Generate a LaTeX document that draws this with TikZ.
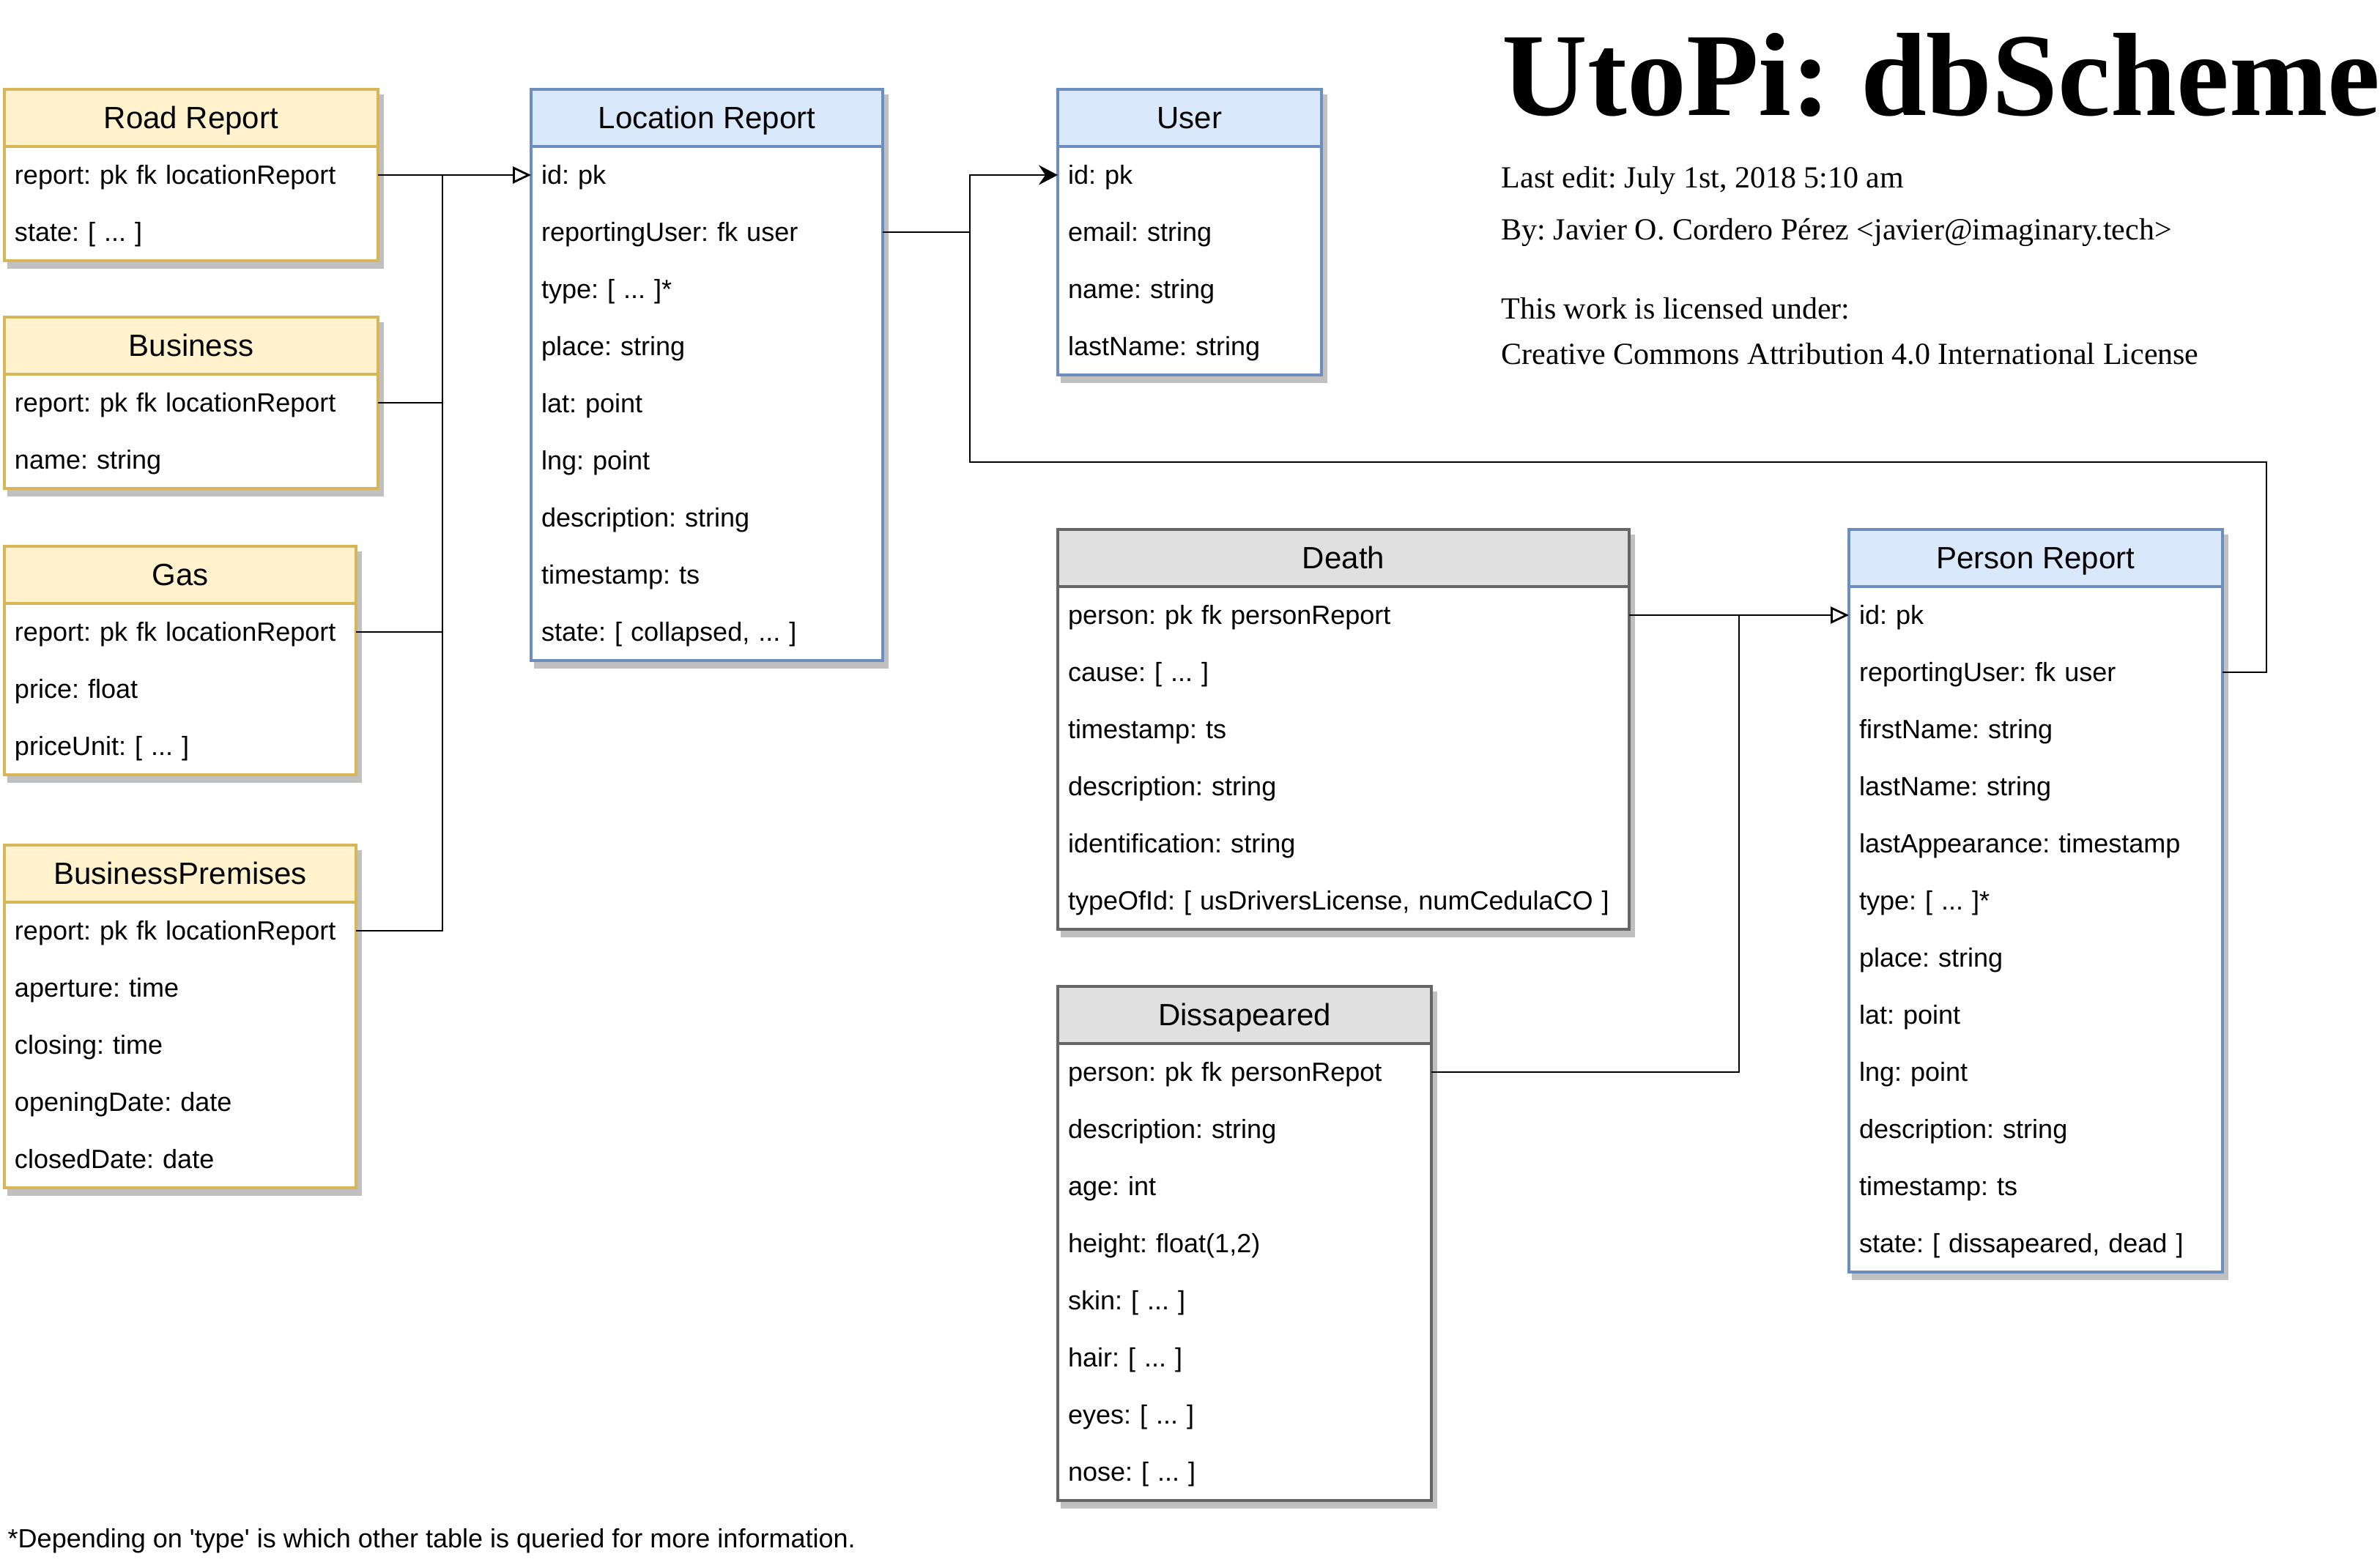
\documentclass[tikz,border=0pt]{standalone}
\usepackage{fontspec}
\setmainfont{Liberation Serif}
\setsansfont{Liberation Sans}
\frenchspacing
\usetikzlibrary{positioning,arrows.meta,backgrounds}
\definecolor{ylwfill}{HTML}{FFF2CC}
\definecolor{ylwline}{HTML}{D6B656}
\definecolor{blufill}{HTML}{DAE8FC}
\definecolor{bluline}{HTML}{6C8EBF}
\definecolor{gryfill}{HTML}{E0E0E0}
\definecolor{gryline}{HTML}{666666}
\definecolor{shadow}{HTML}{C0C0C0}
\begin{document}
\begin{tikzpicture}[
	hdr/.style={minimum height=0.78cm, inner sep=0, outer sep=0, anchor=north west,
		text height=0.38cm, text depth=0.09cm, font=\sffamily\fontsize{11.95pt}{14pt}\selectfont},
	fld/.style={fill=white, minimum height=0.78cm, inner xsep=0.14cm, inner ysep=0, outer sep=0,
		text width=#1, align=left, text height=0.326cm, text depth=0.076cm,
		font=\sffamily\fontsize{10.25pt}{12pt}\selectfont},
	ylw/.style={draw=ylwline, line width=1.4pt},
	blu/.style={draw=bluline, line width=1.4pt},
	gry/.style={draw=gryline, line width=1.4pt},
	shd/.style={fill=shadow, draw=shadow, line width=1.4pt},
	conn/.style={draw=black, line width=0.8pt},
	inh/.style={-{Triangle[open, length=0.25cm, width=0.23cm]}},
	fk/.style={-{Stealth[length=0.26cm, width=0.27cm, inset=0.09cm]}},
	note/.style={anchor=base west, inner sep=0, font=\fontsize{11.95pt}{14pt}\selectfont}
]
\useasboundingbox (0,0) rectangle (32.49,-21.33);

% title block
\node[anchor=base west, inner sep=0, font=\bfseries\fontsize{46pt}{50pt}\selectfont] (title) at (20.50,-1.57) {UtoPi: dbScheme};
\node[note] (edit) at (20.49,-2.56) {Last edit: July 1st, 2018 5:10 am};
\node[note] (by) at (20.49,-3.27) {By: Javier O. Cordero Pérez <javier@imaginary.tech>};
\node[note] (lic) at (20.49,-4.35) {This work is licensed under:};
\node[note] (cc) at (20.49,-4.97) {Creative Commons Attribution 4.0 International License};

% left column
\node[hdr, fill=ylwfill, minimum width=5.1cm] (road) at (0.06,-1.22) {Road Report};
\node[fld=4.82cm, below=0pt of road] (road-1) {report: pk fk locationReport};
\node[fld=4.82cm, below=0pt of road-1] (road-2) {state: [ ... ]};

\node[hdr, fill=ylwfill, minimum width=5.1cm] (biz) at (0.06,-4.33) {Business};
\node[fld=4.82cm, below=0pt of biz] (biz-1) {report: pk fk locationReport};
\node[fld=4.82cm, below=0pt of biz-1] (biz-2) {name: string};

\node[hdr, fill=ylwfill, minimum width=4.8cm] (gas) at (0.06,-7.46) {Gas};
\node[fld=4.52cm, below=0pt of gas] (gas-1) {report: pk fk locationReport};
\node[fld=4.52cm, below=0pt of gas-1] (gas-2) {price: float};
\node[fld=4.52cm, below=0pt of gas-2] (gas-3) {priceUnit: [ ... ]};

\node[hdr, fill=ylwfill, minimum width=4.8cm] (prem) at (0.06,-11.54) {BusinessPremises};
\node[fld=4.52cm, below=0pt of prem] (prem-1) {report: pk fk locationReport};
\node[fld=4.52cm, below=0pt of prem-1] (prem-2) {aperture: time};
\node[fld=4.52cm, below=0pt of prem-2] (prem-3) {closing: time};
\node[fld=4.52cm, below=0pt of prem-3] (prem-4) {openingDate: date};
\node[fld=4.52cm, below=0pt of prem-4] (prem-5) {closedDate: date};

% location report
\node[hdr, fill=blufill, minimum width=4.8cm] (loc) at (7.25,-1.22) {Location Report};
\node[fld=4.52cm, below=0pt of loc] (loc-1) {id: pk};
\node[fld=4.52cm, below=0pt of loc-1] (loc-2) {reportingUser: fk user};
\node[fld=4.52cm, below=0pt of loc-2] (loc-3) {type: [ ... ]*};
\node[fld=4.52cm, below=0pt of loc-3] (loc-4) {place: string};
\node[fld=4.52cm, below=0pt of loc-4] (loc-5) {lat: point};
\node[fld=4.52cm, below=0pt of loc-5] (loc-6) {lng: point};
\node[fld=4.52cm, below=0pt of loc-6] (loc-7) {description: string};
\node[fld=4.52cm, below=0pt of loc-7] (loc-8) {timestamp: ts};
\node[fld=4.52cm, below=0pt of loc-8] (loc-9) {state: [ collapsed, ... ]};

% user
\node[hdr, fill=blufill, minimum width=3.6cm] (usr) at (14.44,-1.22) {User};
\node[fld=3.32cm, below=0pt of usr] (usr-1) {id: pk};
\node[fld=3.32cm, below=0pt of usr-1] (usr-2) {email: string};
\node[fld=3.32cm, below=0pt of usr-2] (usr-3) {name: string};
\node[fld=3.32cm, below=0pt of usr-3] (usr-4) {lastName: string};

% death
\node[hdr, fill=gryfill, minimum width=7.8cm] (death) at (14.44,-7.23) {Death};
\node[fld=7.52cm, below=0pt of death] (death-1) {person: pk fk personReport};
\node[fld=7.52cm, below=0pt of death-1] (death-2) {cause: [ ... ]};
\node[fld=7.52cm, below=0pt of death-2] (death-3) {timestamp: ts};
\node[fld=7.52cm, below=0pt of death-3] (death-4) {description: string};
\node[fld=7.52cm, below=0pt of death-4] (death-5) {identification: string};
\node[fld=7.52cm, below=0pt of death-5] (death-6) {typeOfId: [ usDriversLicense, numCedulaCO ]};

% dissapeared
\node[hdr, fill=gryfill, minimum width=5.1cm] (gone) at (14.44,-13.47) {Dissapeared};
\node[fld=4.82cm, below=0pt of gone] (gone-1) {person: pk fk personRepot};
\node[fld=4.82cm, below=0pt of gone-1] (gone-2) {description: string};
\node[fld=4.82cm, below=0pt of gone-2] (gone-3) {age: int};
\node[fld=4.82cm, below=0pt of gone-3] (gone-4) {height: float(1,2)};
\node[fld=4.82cm, below=0pt of gone-4] (gone-5) {skin: [ ... ]};
\node[fld=4.82cm, below=0pt of gone-5] (gone-6) {hair: [ ... ]};
\node[fld=4.82cm, below=0pt of gone-6] (gone-7) {eyes: [ ... ]};
\node[fld=4.82cm, below=0pt of gone-7] (gone-8) {nose: [ ... ]};

% person report
\node[hdr, fill=blufill, minimum width=5.1cm] (pers) at (25.24,-7.23) {Person Report};
\node[fld=4.82cm, below=0pt of pers] (pers-1) {id: pk};
\node[fld=4.82cm, below=0pt of pers-1] (pers-2) {reportingUser: fk user};
\node[fld=4.82cm, below=0pt of pers-2] (pers-3) {firstName: string};
\node[fld=4.82cm, below=0pt of pers-3] (pers-4) {lastName: string};
\node[fld=4.82cm, below=0pt of pers-4] (pers-5) {lastAppearance: timestamp};
\node[fld=4.82cm, below=0pt of pers-5] (pers-6) {type: [ ... ]*};
\node[fld=4.82cm, below=0pt of pers-6] (pers-7) {place: string};
\node[fld=4.82cm, below=0pt of pers-7] (pers-8) {lat: point};
\node[fld=4.82cm, below=0pt of pers-8] (pers-9) {lng: point};
\node[fld=4.82cm, below=0pt of pers-9] (pers-10) {description: string};
\node[fld=4.82cm, below=0pt of pers-10] (pers-11) {timestamp: ts};
\node[fld=4.82cm, below=0pt of pers-11] (pers-12) {state: [ dissapeared, dead ]};

% footnote
\node[anchor=base west, inner sep=0, font=\sffamily\fontsize{10.25pt}{12pt}\selectfont] (foot) at (0.10,-21.13)
	{*Depending on \textquotesingle type\textquotesingle{} is which other table is queried for more information.};

% frames
\draw[ylw] (road.north west) rectangle (road-2.south east) (road.south west) -- (road.south east);
\draw[ylw] (biz.north west) rectangle (biz-2.south east) (biz.south west) -- (biz.south east);
\draw[ylw] (gas.north west) rectangle (gas-3.south east) (gas.south west) -- (gas.south east);
\draw[ylw] (prem.north west) rectangle (prem-5.south east) (prem.south west) -- (prem.south east);
\draw[blu] (loc.north west) rectangle (loc-9.south east) (loc.south west) -- (loc.south east);
\draw[blu] (usr.north west) rectangle (usr-4.south east) (usr.south west) -- (usr.south east);
\draw[gry] (death.north west) rectangle (death-6.south east) (death.south west) -- (death.south east);
\draw[gry] (gone.north west) rectangle (gone-8.south east) (gone.south west) -- (gone.south east);
\draw[blu] (pers.north west) rectangle (pers-12.south east) (pers.south west) -- (pers.south east);

% shadows
\begin{scope}[on background layer]
\filldraw[shd] ([shift={(0.06,-0.09)}]road.north west) rectangle ([shift={(0.06,-0.09)}]road-2.south east);
\filldraw[shd] ([shift={(0.06,-0.09)}]biz.north west) rectangle ([shift={(0.06,-0.09)}]biz-2.south east);
\filldraw[shd] ([shift={(0.06,-0.09)}]gas.north west) rectangle ([shift={(0.06,-0.09)}]gas-3.south east);
\filldraw[shd] ([shift={(0.06,-0.09)}]prem.north west) rectangle ([shift={(0.06,-0.09)}]prem-5.south east);
\filldraw[shd] ([shift={(0.06,-0.09)}]loc.north west) rectangle ([shift={(0.06,-0.09)}]loc-9.south east);
\filldraw[shd] ([shift={(0.06,-0.09)}]usr.north west) rectangle ([shift={(0.06,-0.09)}]usr-4.south east);
\filldraw[shd] ([shift={(0.06,-0.09)}]death.north west) rectangle ([shift={(0.06,-0.09)}]death-6.south east);
\filldraw[shd] ([shift={(0.06,-0.09)}]gone.north west) rectangle ([shift={(0.06,-0.09)}]gone-8.south east);
\filldraw[shd] ([shift={(0.06,-0.09)}]pers.north west) rectangle ([shift={(0.06,-0.09)}]pers-12.south east);
\end{scope}

% connectors
\coordinate (j1) at (13.24,-6.31);
\coordinate (j2) at (30.94,-6.31);
\coordinate (j3) at (6.04,0);
\coordinate (j4) at (23.74,0);

\draw[conn, inh] (road-1.east) -- (loc-1.west);
\draw[conn] (biz-1.east) -- (biz-1.east -| j3);
\draw[conn] (gas-1.east) -- (gas-1.east -| j3);
\draw[conn] (prem-1.east) -| (road-1.east -| j3);

\draw[conn, fk] (loc-2.east) -- (loc-2.east -| j1) |- (usr-1.west);
\draw[conn] (pers-2.east) -| (j2) -- (j1) -- (loc-2.east -| j1);

\draw[conn, inh] (death-1.east) -- (pers-1.west);
\draw[conn] (gone-1.east) -| (death-1.east -| j4);
\end{tikzpicture}
\end{document}
